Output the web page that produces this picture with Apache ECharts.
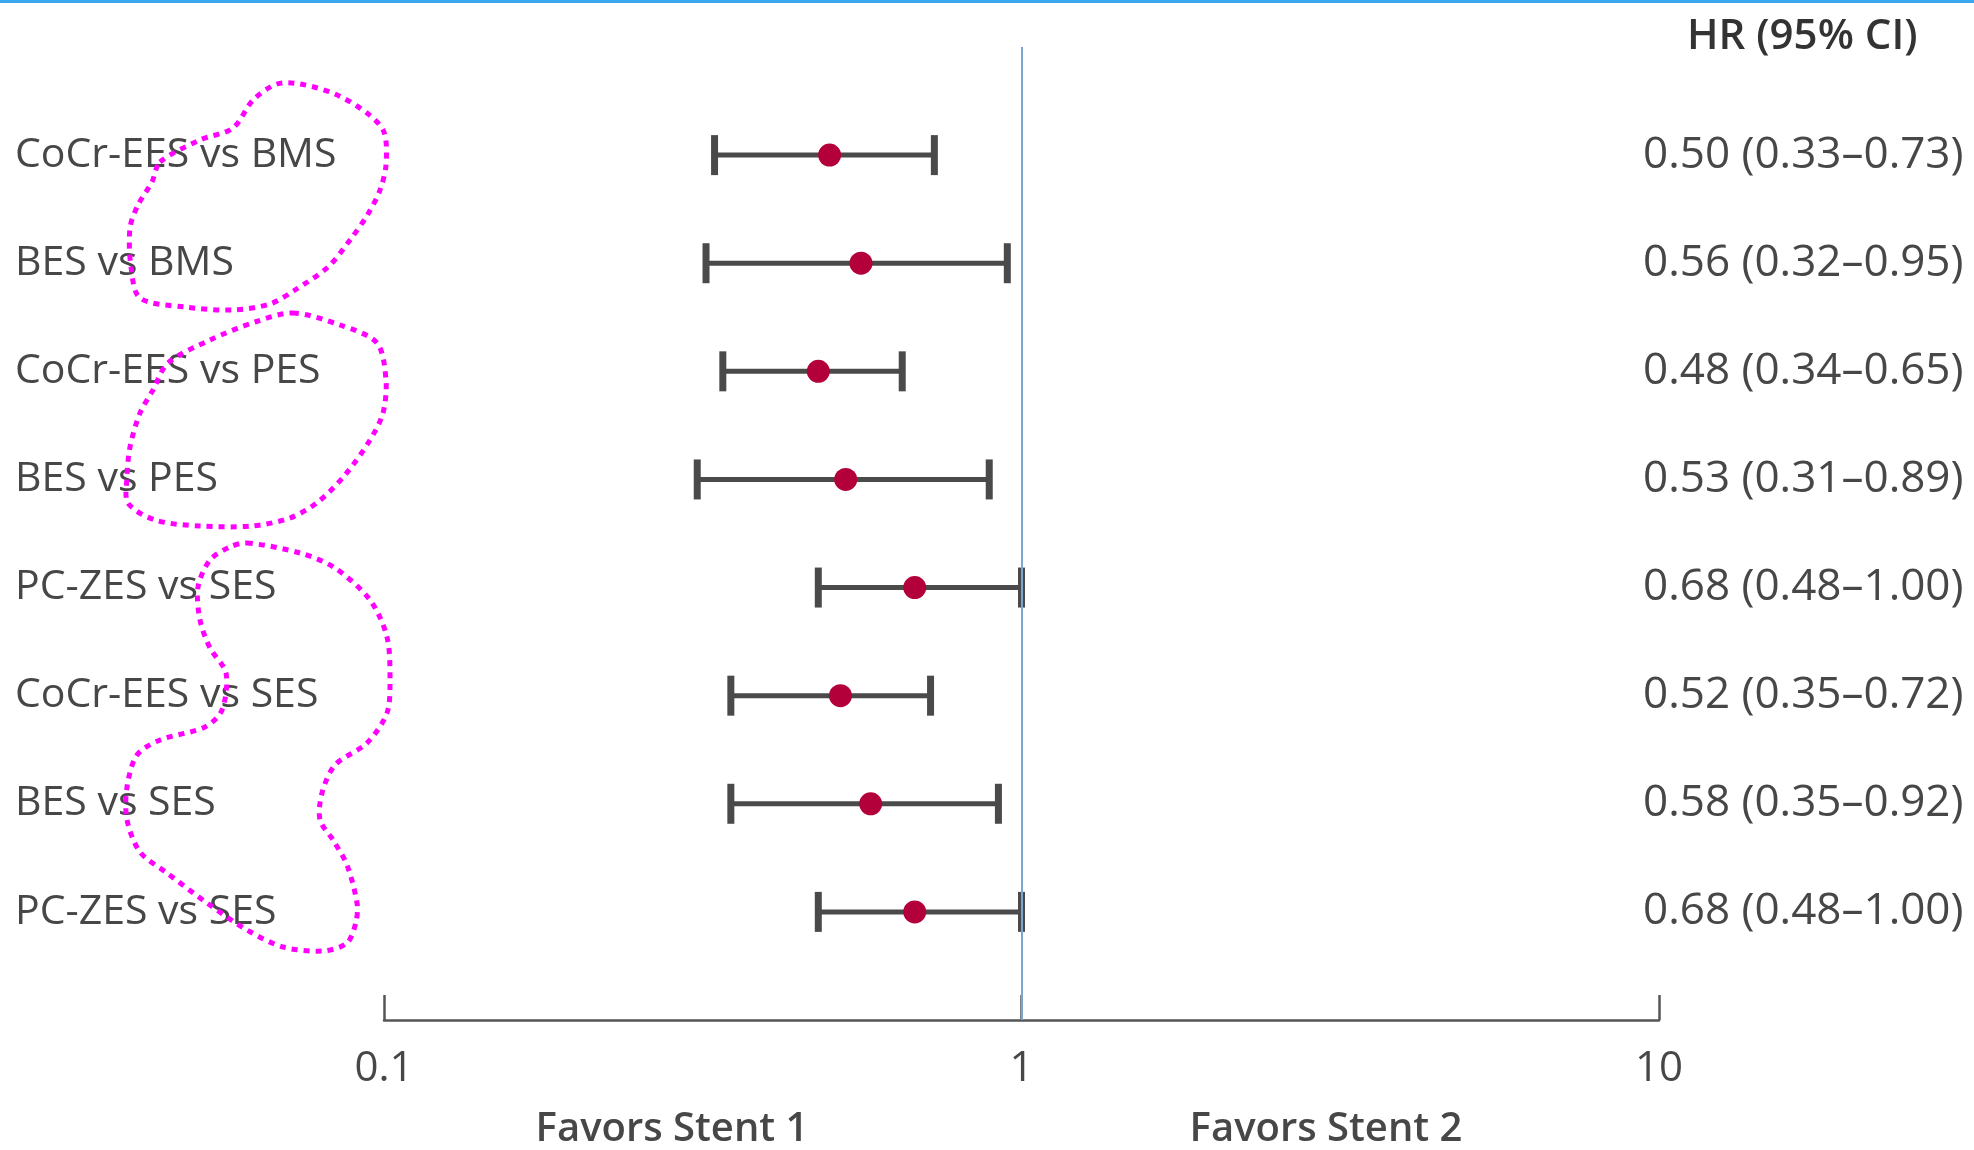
<!DOCTYPE html>
<html>
<head>
<meta charset="utf-8">
<script src="https://cdn.jsdelivr.net/npm/echarts@6/dist/echarts.min.js"></script>
<style>
  html, body { margin: 0; padding: 0; background: #fff; }
  #chart { width: 1974px; height: 1150px; }
</style>
</head>
<body>
<div id="chart"></div>
<script>
// comparisons, top to bottom
const comparisons = ['CoCr-EES vs BMS', 'BES vs BMS', 'CoCr-EES vs PES', 'BES vs PES',
  'PC-ZES vs SES', 'CoCr-EES vs SES', 'BES vs SES', 'PC-ZES vs SES']
const hr = [0.50, 0.56, 0.48, 0.53, 0.68, 0.52, 0.58, 0.68]
const ciLow = [0.33, 0.32, 0.34, 0.31, 0.48, 0.35, 0.35, 0.48]
const ciHigh = [0.73, 0.95, 0.65, 0.89, 1.00, 0.72, 0.92, 1.00]
const hrText = ['0.50 (0.33\u20130.73)', '0.56 (0.32\u20130.95)', '0.48 (0.34\u20130.65)', '0.53 (0.31\u20130.89)',
  '0.68 (0.48\u20131.00)', '0.52 (0.35\u20130.72)', '0.58 (0.35\u20130.92)', '0.68 (0.48\u20131.00)']
const xTicks = [0.1, 1, 10]

const font = '"Open Sans", "Noto Sans", sans-serif'
const gray = '#474747'

// hand drawn magenta loops over the labels
const loops = [
  [[160,162],[200,140],[233,128],[253,100],[277,84],[300,84],[335,94],[367,113],[384,132],[386,165],[380,190],[368,214],[350,240],[328,267],[295,290],[270,304],[233,310],[185,307],[140,298],[131,267],[130,228],[138,205],[152,182]],
  [[293,313],[340,325],[377,343],[386,380],[383,413],[370,440],[345,475],[318,502],[290,518],[252,526],[200,526],[155,520],[128,503],[127,477],[130,447],[140,413],[153,390],[168,363],[210,340],[255,322]],
  [[247,543],[300,553],[335,568],[370,600],[387,637],[390,680],[387,713],[367,743],[335,765],[322,793],[320,820],[333,840],[347,865],[357,903],[356,922],[347,943],[323,951],[283,947],[247,930],[207,903],[167,873],[140,852],[127,820],[127,787],[137,755],[160,740],[205,727],[222,710],[226,673],[210,648],[200,620],[198,587],[210,560],[230,547]]
]

const chart = echarts.init(document.getElementById('chart'))

const yBase = {
  type: 'value',
  inverse: true,
  min: -1,
  max: 8,
  interval: 1,
  axisLine: { show: false },
  axisTick: { show: false },
  splitLine: { show: false }
}

const option = {
  animation: false,
  backgroundColor: '#fff',
  grid: { left: 384, right: 315, top: 47, bottom: 130 },
  xAxis: {
    type: 'log',
    logBase: 10,
    min: xTicks[0],
    max: xTicks[xTicks.length - 1],
    axisLine: { onZero: false, lineStyle: { color: '#555', width: 2.5 } },
    axisTick: { inside: true, length: 25, lineStyle: { color: '#555', width: 2.5 } },
    axisLabel: { margin: 28, fontSize: 42, color: gray, fontFamily: font },
    splitLine: { show: false }
  },
  yAxis: [
    Object.assign({}, yBase, {
      position: 'left',
      axisLabel: {
        align: 'left', margin: 369, fontSize: 41, color: gray, fontFamily: font,
        formatter: v => comparisons[v] || ''
      }
    }),
    Object.assign({}, yBase, {
      position: 'right',
      axisLabel: {
        align: 'left', margin: -16, fontSize: 44, color: gray, fontFamily: font,
        formatter: v => hrText[v] || ''
      }
    })
  ],
  series: [
    {
      type: 'custom',
      data: ciLow.map((lo, i) => [lo, ciHigh[i], i]),
      renderItem: (params, api) => {
        const a = api.coord([api.value(0), api.value(2)])
        const b = api.coord([api.value(1), api.value(2)])
        const cap = 20
        const capStyle = { stroke: '#4a4a4a', lineWidth: 7 }
        return {
          type: 'group',
          children: [
            { type: 'line', shape: { x1: a[0], y1: a[1], x2: b[0], y2: b[1] }, style: { stroke: '#4a4a4a', lineWidth: 5 } },
            { type: 'line', shape: { x1: a[0], y1: a[1] - cap, x2: a[0], y2: a[1] + cap }, style: capStyle },
            { type: 'line', shape: { x1: b[0], y1: b[1] - cap, x2: b[0], y2: b[1] + cap }, style: capStyle }
          ]
        }
      },
      z: 2
    },
    {
      type: 'scatter',
      data: hr.map((v, i) => [v, i]),
      symbolSize: 23,
      itemStyle: { color: '#b3003a', opacity: 1 },
      z: 3,
      markLine: {
        silent: true,
        symbol: 'none',
        label: { show: false },
        lineStyle: { color: '#7aa6cf', width: 2, type: 'solid' },
        data: [{ xAxis: 1 }]
      }
    }
  ],
  graphic: [
    { type: 'rect', shape: { x: 0, y: 0, width: 1974, height: 3 }, style: { fill: '#3aa6ee' } },
    {
      type: 'text', x: 1687, y: 37,
      style: { text: 'HR (95% CI)', fontSize: 42, fontWeight: 600, fill: '#333', fontFamily: font, verticalAlign: 'middle' }
    },
    {
      type: 'text', x: 672, y: 1130,
      style: { text: 'Favors Stent 1', fontSize: 40, fontWeight: 600, fill: gray, fontFamily: font, align: 'center', verticalAlign: 'middle' }
    },
    {
      type: 'text', x: 1326, y: 1130,
      style: { text: 'Favors Stent 2', fontSize: 40, fontWeight: 600, fill: gray, fontFamily: font, align: 'center', verticalAlign: 'middle' }
    }
  ].concat(loops.map(pts => ({
    type: 'polygon',
    z: 10,
    shape: { points: pts, smooth: 0.3 },
    style: { fill: null, stroke: '#ff00ff', lineWidth: 5, lineDash: [6, 6] }
  })))
}

chart.setOption(option)
</script>
</body>
</html>
